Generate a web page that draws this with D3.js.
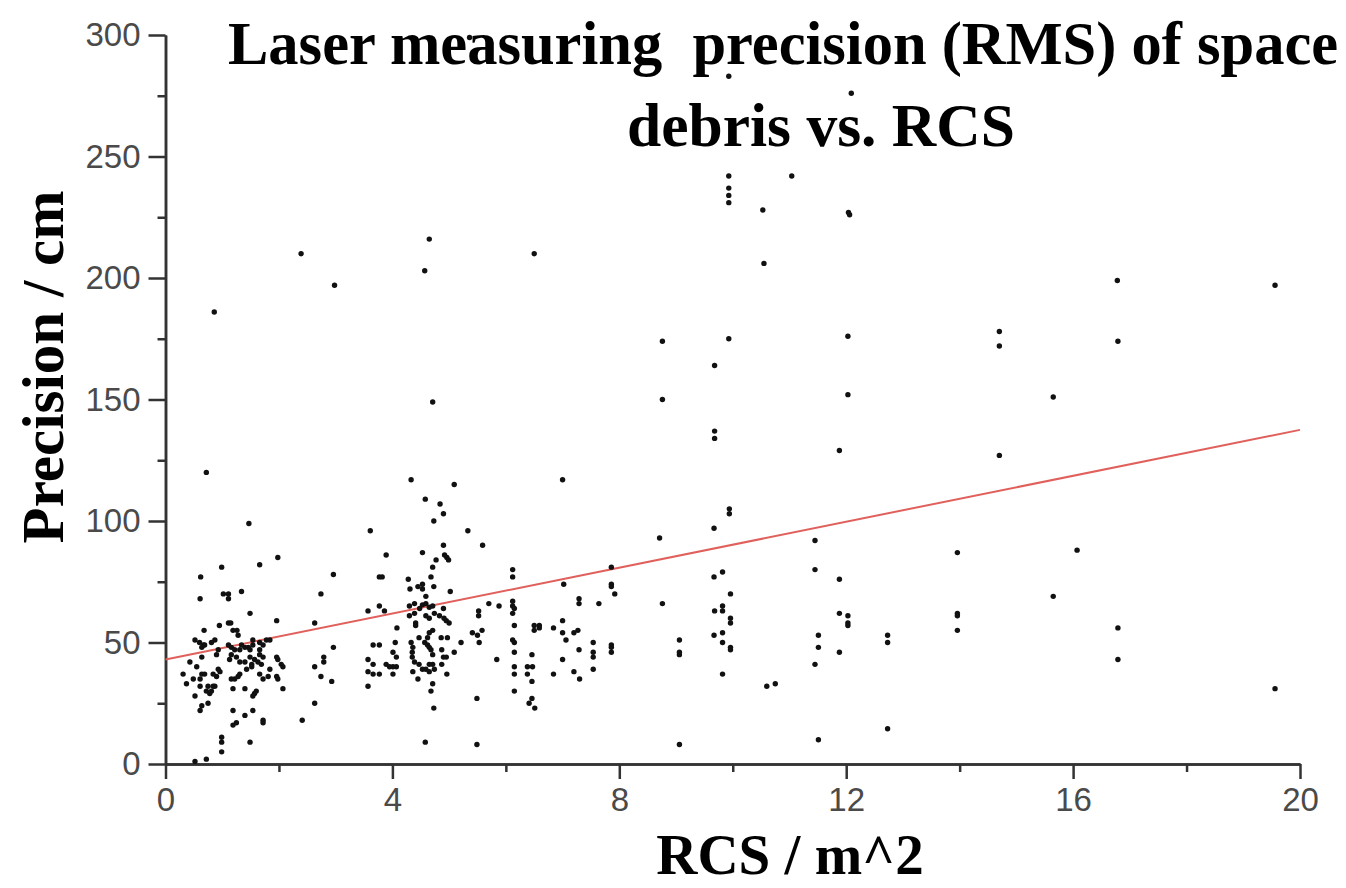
<!DOCTYPE html>
<html>
<head>
<meta charset="utf-8">
<script src="https://cdn.jsdelivr.net/npm/d3@7"></script>
<style>
  body { margin: 0; background: #fff; }
  .tick text { font-family: "Liberation Sans", Arial, sans-serif; fill: #4a4a4a; }
  .axis path, .axis line { stroke: #333; stroke-width: 2.5; }
  .title { font-family: "Liberation Serif", "Times New Roman", serif; font-weight: bold; fill: #000; }
</style>
</head>
<body>
<script>
// RCS (m^2) and precision (cm) of each pass
var rcs = [
  0.99,1.66,0.62,0.61,1.02,1.11,1.11,1.34,1.49,1.96,1.11,1.15,0.95,0.68,1.19,1.26,1.28,0.52,0.60,0.67,
  0.64,0.69,0.87,0.81,1.11,1.16,1.34,1.46,1.54,1.54,1.66,1.78,1.84,1.72,0.93,1.22,1.31,1.40,1.49,1.66,
  0.64,0.90,1.16,1.25,1.13,1.31,1.40,1.49,1.57,1.66,1.72,1.69,1.63,1.52,1.52,1.96,1.98,2.04,2.07,0.43,
  0.55,0.93,0.64,0.69,0.84,0.90,0.96,0.31,0.37,0.49,0.61,1.31,1.28,1.22,1.16,1.43,1.66,1.72,1.81,1.84,
  1.96,1.98,0.61,0.75,0.84,0.87,0.72,0.78,0.81,0.52,1.19,1.40,1.60,1.57,1.54,2.07,0.64,0.61,0.75,1.19,
  1.40,1.54,1.72,1.72,1.25,1.19,0.99,0.99,0.99,1.49,0.52,0.72,
  0.72,1.47,1.98,2.96,2.74,2.63,2.96,2.79,2.79,2.63,2.74,2.93,2.63,2.41,0.86,2.39,2.98,
  3.61,3.89,3.77,3.82,3.77,3.86,3.57,3.66,3.77,3.57,3.66,3.89,3.95,4.01,4.07,4.01,4.07,3.57,3.66,3.77,
  4.01,3.57,4.08,4.05,
  4.33,5.09,4.58,4.84,4.90,4.73,5.33,5.59,4.90,4.53,4.92,4.96,4.99,4.77,4.71,4.68,4.28,4.31,4.45,4.53,
  4.53,4.73,4.59,5.02,4.30,4.39,4.48,4.53,4.59,4.65,4.71,4.90,4.30,4.39,4.41,4.41,4.59,4.65,4.74,4.83,
  4.91,4.95,5.00,4.71,4.65,4.62,4.47,4.57,4.62,4.65,4.68,4.71,4.86,4.97,5.21,4.33,4.36,4.35,4.35,4.39,
  4.36,4.45,4.87,4.90,4.95,4.87,5.09,4.47,4.53,4.59,4.65,4.71,4.65,4.74,4.71,4.68,4.73,4.96,5.49,4.58,
  5.49,5.84,5.70,5.88,5.52,5.52,5.58,5.41,5.50,5.53,
  4.57,4.65,4.71,5.36,6.50,
  7.00,6.12,6.12,7.86,7.02,7.86,7.86,7.92,6.12,6.12,6.15,6.12,7.29,7.29,7.64,6.15,7.00,6.50,6.59,6.50,
  6.59,6.84,7.00,7.20,7.27,7.06,6.12,6.15,7.54,7.86,7.86,7.86,7.54,7.54,7.29,6.15,6.46,7.00,6.15,6.38,
  6.47,6.15,6.38,6.46,6.84,7.20,7.30,7.54,6.15,6.46,6.41,6.51,
  8.76,9.93,12.03,9.68,8.76,12.03,9.68,9.68,11.88,9.94,9.94,9.67,8.71,11.45,11.45,11.88,9.67,9.82,9.96,8.76,
  9.68,9.82,9.82,9.96,9.96,11.88,12.03,12.03,12.03,11.51,11.51,11.45,11.88,9.06,9.06,9.06,9.67,9.82,9.82,9.96,
  9.96,9.82,10.60,10.75,9.06,11.51,
  9.93,9.93,9.93,9.93,9.93,10.53,10.55,11.04,12.09,12.04,12.06,16.78,19.56,
  14.70,14.70,16.79,15.65,14.70,13.96,16.07,15.65,13.96,13.96,13.96,12.73,12.73,16.79,16.79,19.56,12.73
];
var precision = [
  81,82,77,68,70,70,68,71,62,59,58,58,57,55,55,55,53,51,50,49,
  48,49,51,50,49,48,49,48,51,49,50,51,51,49,47,47,47,48,47,47,
  44,45,45,44,43,42,42,44,43,45,44,41,42,41,40,44,43,41,40,42,
  40,39,37,37,37,36,38,37,33,35,35,37,36,35,35,39,37,35,36,39,
  36,35,32,32,32,32,30,29,30,28,31,31,30,29,28,31,24,22,25,22,
  20,22,18,17,17,16,11,9,5,9,1,2,
  120,99,85,78,70,58,48,44,42,40,36,34,25,18,186,210,197,
  96,86,77,77,65,63,63,49,49,43,41,41,40,40,40,46,44,38,37,37,
  37,32,56,50,
  117,115,109,107,103,100,96,90,90,87,86,85,84,84,81,77,76,72,73,74,
  72,73,69,71,65,66,64,65.5,66,64.5,65,64,61,62,58,57,61,60,62,61,
  60,59,58,55,54,52,52,50,49,48,47,45,52,52,50,50,48,46,44,42,
  38,35,47,44,44,41,46,41,39,39,41,41,38,39,33,30,23,37,27,9,
  8,43,66,65,63,61,55,54,53,50,
  203,216,149,299,210,
  117,80,77,81,74,74,73,70,67,65,64,62,68,66,66,57,59,57,57,55,
  56,56,54,54,55,51,51,50,50,49,48,46,46,44,47,46,45,43,40,40,
  40,37,37,34,37,38,35,39,30,27,25,23,
  174,175,176,164,150,152,137,134,129,105,103,97,93,92,80,76,77,79,70,66,
  63,65,63,60,58,62,61,58,57,53,48,41,46,51,45,46,53,54,50,48,
  47,37,32,33,8,10,
  283,242,237,234,231,228,206,242,276,227,226,199,197,
  178,172,174,151,127,87,88,69,62,61,55,53,50,56,43,31,14.5
];
// fitted line end points
var fitRcs = [0, 20];
var fitPrecision = [43, 137.5];

var xMajor = [0, 4, 8, 12, 16, 20];
var xMinor = [2, 6, 10, 14, 18];
var yMajor = [0, 50, 100, 150, 200, 250, 300];
var yMinor = [25, 75, 125, 175, 225, 275];

var width = 1346, height = 888;
var svg = d3.select("body").append("svg")
    .attr("width", width)
    .attr("height", height);

var x = d3.scaleLinear().domain([0, 20]).range([165.5, 1300]);
var y = d3.scaleLinear().domain([0, 300]).range([764, 35]);

// minor ticks first, the major axes draw the lines on top
svg.append("g")
    .attr("class", "axis")
    .attr("transform", "translate(0,764)")
    .call(d3.axisBottom(x).tickValues(xMinor).tickSize(8).tickSizeOuter(0).tickFormat(""));
svg.append("g")
    .attr("class", "axis")
    .attr("transform", "translate(165.5,0)")
    .call(d3.axisLeft(y).tickValues(yMinor).tickSize(8).tickSizeOuter(0).tickFormat(""));

var xAxis = svg.append("g")
    .attr("class", "axis")
    .attr("transform", "translate(0,764)")
    .call(d3.axisBottom(x).tickValues(xMajor).tickSize(15).tickSizeOuter(0).tickPadding(9));
xAxis.selectAll("text").attr("font-size", "33px");

var yAxis = svg.append("g")
    .attr("class", "axis")
    .attr("transform", "translate(165.5,0)")
    .call(d3.axisLeft(y).tickValues(yMajor).tickSize(17).tickSizeOuter(0).tickPadding(8));
yAxis.selectAll("text").attr("font-size", "33px");

// fitted line
svg.append("line")
    .attr("x1", x(fitRcs[0]))
    .attr("y1", y(fitPrecision[0]))
    .attr("x2", x(fitRcs[1]))
    .attr("y2", y(fitPrecision[1]))
    .attr("stroke", "#e0605c")
    .attr("stroke-width", 2);

// points
svg.append("g").selectAll("circle")
    .data(rcs.map(function(d, i) { return [d, precision[i]]; }))
    .enter().append("circle")
    .attr("cx", function(d) { return x(d[0]); })
    .attr("cy", function(d) { return y(d[1]); })
    .attr("r", 2.7)
    .attr("fill", "#111");

// titles
svg.append("text")
    .attr("class", "title")
    .attr("x", 228)
    .attr("y", 64)
    .attr("font-size", "60.5px")
    .attr("xml:space", "preserve")
    .text("Laser measuring  precision (RMS) of space");
svg.append("text")
    .attr("class", "title")
    .attr("x", 627)
    .attr("y", 146)
    .attr("font-size", "61.5px")
    .text("debris vs. RCS");

svg.append("text")
    .attr("class", "title")
    .attr("transform", "translate(63,367) rotate(-90)")
    .attr("text-anchor", "middle")
    .attr("font-size", "59px")
    .text("Precision / cm");

svg.append("text")
    .attr("class", "title")
    .attr("x", 790)
    .attr("y", 874)
    .attr("text-anchor", "middle")
    .attr("font-size", "57px")
    .text("RCS / m^2");
</script>
</body>
</html>
